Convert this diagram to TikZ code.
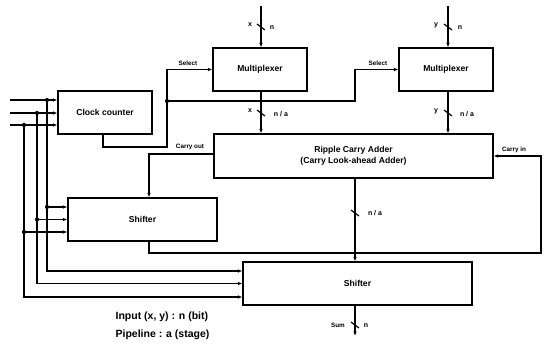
\documentclass[tikz,border=0pt]{standalone}
\usepackage{fontspec}
\setmainfont{Liberation Sans}
\usetikzlibrary{arrows.meta,calc}
\begin{document}
\begin{tikzpicture}[x=1pt,y=-1pt,line width=1.2pt,
  blk/.style={draw,line width=1.2pt,inner sep=0pt,font=\fontsize{8.6}{11}\selectfont\bfseries,align=center},
  lab/.style={font=\fontsize{6.3}{7}\selectfont\bfseries,inner sep=0.5pt},
  bus/.style={font=\fontsize{7}{8}\selectfont\bfseries,inner sep=0.5pt},
  leg/.style={font=\fontsize{10.5}{12}\selectfont\bfseries,inner sep=0pt,anchor=west},
  arr/.style={-{Latex[length=4.5pt,width=3.6pt]}},
  jdot/.style={circle,fill,inner sep=0pt,minimum size=4.2pt}]
\useasboundingbox (0,0) rectangle (547,349);
% blocks
\node[blk,minimum width=94pt,minimum height=43pt] (cc) at (105,112.5) {Clock counter};
\node[blk,minimum width=94pt,minimum height=43pt] (mux1) at (260,69.5) {Multiplexer};
\node[blk,minimum width=94pt,minimum height=43pt] (mux2) at (446,69.5) {Multiplexer};
\node[blk,minimum width=279pt,minimum height=44pt] (rca) at (353.5,156) {Ripple Carry Adder\\(Carry Look-ahead Adder)};
\node[blk,minimum width=149pt,minimum height=43pt] (sh1) at (142.5,219.5) {Shifter};
\node[blk,minimum width=229pt,minimum height=43pt] (sh2) at (357.5,283.5) {Shifter};
% input lines
\coordinate (i1) at (10,100);
\coordinate (i2) at (10,113);
\coordinate (i3) at (10,125);
\coordinate (v1) at (47,100);
\coordinate (v2) at (37,113);
\coordinate (v3) at (24,125);
\coordinate (s1a) at ($(sh1.west)+(0,-12.5)$);
\coordinate (s1b) at (sh1.west);
\coordinate (s1c) at ($(sh1.west)+(0,12.5)$);
\coordinate (s2a) at ($(sh2.west)+(0,-12.5)$);
\coordinate (s2b) at (sh2.west);
\coordinate (s2c) at ($(sh2.west)+(0,13.5)$);
\draw[arr] (i1) -- (i1 -| cc.west);
\draw[arr] (i2) -- (i2 -| cc.west);
\draw[arr] (i3) -- (i3 -| cc.west);
\draw[arr] (v1) |- (s2a);
\draw[arr] (v2) |- (s2b);
\draw[arr] (v3) |- (s2c);
\draw[arr] (v1 |- s1a) -- (s1a);
\draw[arr] (v2 |- s1b) -- (s1b);
\draw[arr] (v3 |- s1c) -- (s1c);
\node[jdot] (d1) at (v1) {};
\node[jdot] (d2) at (v2) {};
\node[jdot] (d3) at (v3) {};
\node[jdot] (d4) at (v1 |- s1a) {};
\node[jdot] (d5) at (v2 |- s1b) {};
\node[jdot] (d6) at (v3 |- s1c) {};
% clock counter to selects
\coordinate (ccb) at (103,134);
\coordinate (sj) at (167,101);
\node[jdot] (sjd) at (sj) {};
\draw (ccb) -- (103,147) -| (sj);
\draw[arr] (sj) |- (mux1.west);
\draw[arr] (sj) -- (355,101) |- (mux2.west);
\node[lab] (sel1) at (188,63) {Select};
\node[lab] (sel2) at (378,63) {Select};
% x input
\coordinate (xin) at (261,6);
\draw[arr] (xin) -- (mux1.north -| xin);
\draw[arr] (mux1.south -| xin) -- (rca.north -| xin);
\draw (261,27)+(-4,-3) -- +(4,3);
\draw (261,113)+(-4,-3) -- +(4,3);
\node[bus] (xl1) at (250,25) {x};
\node[bus] (nl1) at (272,28) {n};
\node[bus] (xl2) at (250,111) {x};
\node[bus] (nl2) at (281,114) {n / a};
% y input
\coordinate (yin) at (448,6);
\draw[arr] (yin) -- (mux2.north -| yin);
\draw[arr] (mux2.south -| yin) -- (rca.north -| yin);
\draw (448,27)+(-4,-3) -- +(4,3);
\draw (448,113)+(-4,-3) -- +(4,3);
\node[bus] (yl1) at (436,25) {y};
\node[bus] (nl3) at (460,28) {n};
\node[bus] (yl2) at (436,111) {y};
\node[bus] (nl4) at (467,114) {n / a};
% carry out
\draw[arr] ($(rca.west)+(0,-2)$) -| (sh1.north -| 149,0);
\node[lab] (co) at (190,147) {Carry out};
% shifter1 output feedback to carry in
\coordinate (fb) at (541,253);
\draw[arr] (sh1.south -| 149,0) |- (fb) |- (rca.east);
\node[lab] (ci) at (514,150) {Carry in};
% rca to shifter2
\draw[arr] (rca.south -| 355,0) -- (sh2.north -| 355,0);
\draw (355,213)+(-4,-3) -- +(4,3);
\node[bus] (nl5) at (375,213) {n / a};
% sum
\coordinate (sum) at (355,336);
\draw[arr] (sh2.south -| sum) -- (sum);
\draw (355,325)+(-4,-3) -- +(4,3);
\node[lab] (suml) at (338,325) {Sum};
\node[bus] (nl6) at (366,326) {n};
% legend
\node[leg] (lg1) at (115,317) {Input (x, y) : n (bit)};
\node[leg] (lg2) at (115,335) {Pipeline : a (stage)};
\end{tikzpicture}
\end{document}
